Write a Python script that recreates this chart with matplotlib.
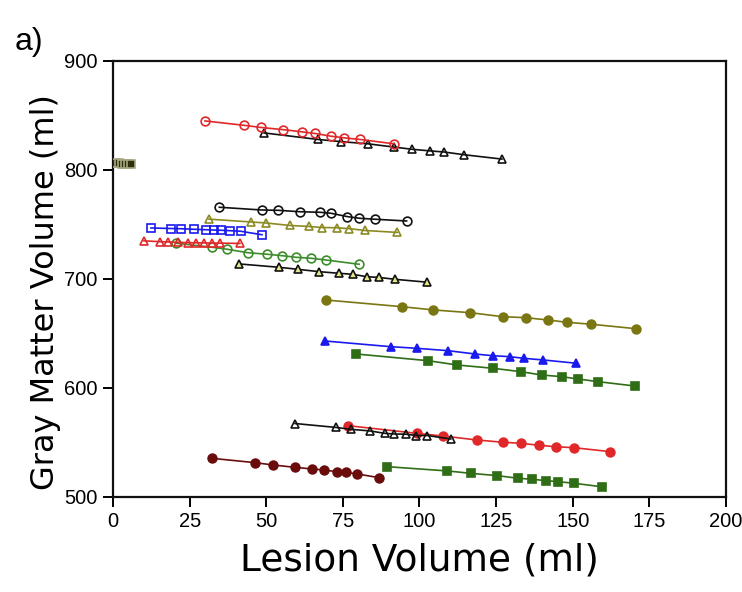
import matplotlib
matplotlib.use("Agg")
import matplotlib.pyplot as plt

# ---- data (lesion volume, gray matter volume) ----
s1_x = [30.0, 42.7, 48.3, 55.5, 61.7, 65.9, 71.1, 75.4, 80.6, 91.7]
s1_y = [845, 841, 839, 837, 835, 833.5, 831, 829.5, 828, 824]

s2_x = [49.3, 66.9, 74.4, 83.2, 91.7, 97.6, 103.4, 108.0, 114.5, 126.9]
s2_y = [834, 828, 826, 824, 821, 819, 817.5, 816.5, 814, 810]

s3_x = [0.8, 1.8, 2.8, 3.8, 4.8, 5.8]
s3_y = [806, 806, 805.8, 805.6, 805.4, 805.2]

s4_x = [34.7, 48.5, 53.9, 61.0, 67.5, 71.1, 76.5, 80.4, 85.5, 95.8]
s4_y = [765.8, 763.3, 763.0, 761.7, 761.2, 760.3, 757.2, 755.7, 754.8, 753.2]

s5_x = [31.3, 45.0, 49.9, 57.7, 63.9, 68.2, 73.1, 77.0, 82.2, 92.8]
s5_y = [754.9, 752.3, 751.4, 749.1, 748.2, 747.2, 747.0, 746.2, 744.5, 742.7]

s6_x = [12.4, 18.9, 22.2, 26.3, 30.3, 32.9, 35.2, 38.1, 41.6, 48.6]
s6_y = [746.8, 746.3, 746.1, 745.6, 745.2, 744.9, 744.7, 744.3, 743.8, 740.6]

s7_x = [10.1, 15.3, 17.9, 21.2, 24.5, 27.1, 29.7, 32.3, 34.9, 41.4]
s7_y = [735.0, 734.2, 734.0, 733.6, 733.3, 733.2, 733.1, 733.0, 732.9, 732.6]

s8_x = [20.6, 32.3, 37.2, 44.0, 50.2, 55.1, 59.7, 64.6, 69.5, 80.3]
s8_y = [732.8, 729.1, 727.3, 724.1, 722.7, 721.4, 719.9, 719.0, 717.4, 713.5]

s9_x = [41.2, 54.3, 60.2, 67.3, 73.8, 78.2, 82.8, 86.9, 92.0, 102.3]
s9_y = [713.8, 710.7, 708.9, 706.7, 705.2, 704.3, 702.1, 701.4, 699.7, 697.1]

s10_x = [69.5, 94.2, 104.5, 116.5, 127.1, 134.7, 141.8, 148.0, 156.0, 170.6]
s10_y = [680.7, 674.6, 671.6, 669.1, 665.4, 664.5, 662.4, 660.3, 658.5, 654.4]

s11_x = [69.2, 90.6, 99.1, 109.4, 118.1, 123.9, 129.5, 134.1, 140.4, 151.1]
s11_y = [643.1, 637.9, 636.4, 634.2, 631.2, 629.6, 628.7, 627.2, 625.7, 622.7]

s12_x = [79.3, 102.9, 112.3, 123.9, 133.0, 139.9, 146.4, 151.6, 158.3, 170.3]
s12_y = [631.2, 625.0, 621.1, 618.1, 615.0, 611.9, 610.4, 608.3, 605.8, 601.8]

s13_x = [59.4, 72.8, 77.5, 83.8, 88.7, 91.7, 95.6, 98.9, 102.6, 110.2]
s13_y = [567.4, 563.8, 562.1, 560.6, 558.4, 557.8, 557.6, 556.4, 556.4, 553.2]

s14_x = [76.8, 99.1, 107.8, 118.7, 127.3, 133.0, 139.1, 144.5, 150.5, 162.2]
s14_y = [565.4, 558.4, 555.9, 552.3, 550.2, 549.3, 547.4, 546.1, 545.2, 541.6]

s15_x = [32.2, 46.3, 52.1, 59.4, 65.0, 68.8, 73.0, 75.9, 79.7, 86.9]
s15_y = [535.5, 531.5, 529.4, 527.2, 525.7, 524.8, 523.2, 522.7, 521.1, 517.7]

s16_x = [89.5, 109.1, 116.7, 125.4, 132.0, 136.6, 141.2, 145.1, 150.4, 159.4]
s16_y = [527.8, 523.9, 521.7, 519.6, 517.2, 516.3, 515.0, 514.1, 512.6, 509.4]

x_ticks = [0, 25, 50, 75, 100, 125, 150, 175, 200]
y_ticks = [500, 600, 700, 800, 900]

RED = "#e0282a"
BLACK = "#111111"
OLIVE = "#8c8a22"
DOLIVE = "#7a7612"
BLUE = "#1a1aee"
GREEN = "#3c8c2c"
DGREEN = "#2f6e16"
MAROON = "#6a0c0c"
DKOL = "#2e2e0a"

# (x, y, marker, line color, face color, edge color)
series = [
    (s2_x, s2_y, "^", BLACK, "none", BLACK),
    (s1_x, s1_y, "o", RED, "none", RED),
    (s3_x, s3_y, "s", DKOL, DKOL, "#a8a880"),
    (s4_x, s4_y, "o", BLACK, "none", BLACK),
    (s5_x, s5_y, "^", OLIVE, "none", OLIVE),
    (s6_x, s6_y, "s", BLUE, "none", BLUE),
    (s8_x, s8_y, "o", GREEN, "none", GREEN),
    (s7_x, s7_y, "^", RED, "none", RED),
    (s9_x, s9_y, "^", BLACK, "#e6e68a", BLACK),
    (s10_x, s10_y, "o", DOLIVE, DOLIVE, DOLIVE),
    (s11_x, s11_y, "^", BLUE, BLUE, BLUE),
    (s12_x, s12_y, "s", DGREEN, DGREEN, DGREEN),
    (s14_x, s14_y, "o", RED, RED, RED),
    (s13_x, s13_y, "^", BLACK, "none", BLACK),
    (s15_x, s15_y, "o", MAROON, MAROON, MAROON),
    (s16_x, s16_y, "s", DGREEN, DGREEN, DGREEN),
]

fig = plt.figure(figsize=(7.42, 5.92), dpi=100)
ax = fig.add_axes([0.1523, 0.1605, 0.8261, 0.7365])

for x, y, m, c, fc, ec in series:
    ax.plot(x, y, color=c, lw=1.2, marker=m, markersize=6.3,
            markerfacecolor=fc, markeredgecolor=ec,
            markeredgewidth=1.2, zorder=3)

ax.set_xlim(0, 200)
ax.set_ylim(500, 900)
ax.set_xticks(x_ticks)
ax.set_yticks(y_ticks)
for sp in ax.spines.values():
    sp.set_linewidth(1.6)
    sp.set_color("#111111")
ax.tick_params(direction="out", length=7, width=1.4, labelsize=14.5, pad=4)
for lab in ax.get_xticklabels() + ax.get_yticklabels():
    lab.set_fontfamily("Liberation Sans")

ax.set_xlabel("Lesion Volume (ml)", fontsize=27, labelpad=8)
ax.set_ylabel("Gray Matter Volume (ml)", fontsize=23)
ax.yaxis.set_label_coords(-0.085, 0.47)
fig.text(0.02, 0.915, "a)", fontsize=23, fontfamily="Liberation Sans")

fig.savefig("out.png", dpi=100, facecolor="white")
